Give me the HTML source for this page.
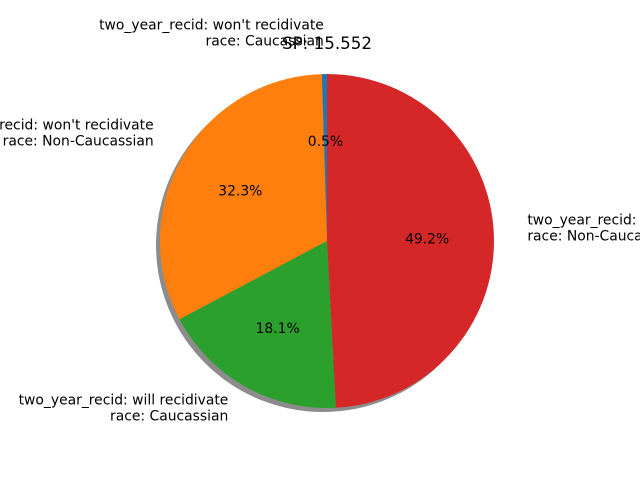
<!DOCTYPE html>
<html><head><meta charset="utf-8"><style>
html,body{margin:0;padding:0;background:#fff;}
svg{display:block;font-family:"DejaVu Sans","Liberation Sans",sans-serif;}
</style></head><body>
<svg id="chart" width="640" height="480" viewBox="0 0 640 480">
<text x="327" y="49" font-size="16.7" text-anchor="middle">SP: 15.552</text>
<g id="shadow"></g><g id="slices"></g><g id="labels"></g>
</svg>
<script>
const categories = ["two_year_recid: won't recidivate\nrace: Caucassian","two_year_recid: won't recidivate\nrace: Non-Caucassian","two_year_recid: will recidivate\nrace: Caucassian","two_year_recid: will recidivate\nrace: Non-Caucassian"];
const values = [0.5, 32.3, 18.1, 49.2];
const pctLabels = ["0.5%","32.3%","18.1%","49.2%"];
const colors = ["#1f77b4","#ff7f0e","#2ca02c","#d62728"];
const NS="http://www.w3.org/2000/svg";
const cx=327, cy=241, R=167;
const total=values.reduce((a,b)=>a+b,0);
function pt(a,r,ox,oy){return [cx+(ox||0)+r*Math.cos(a*Math.PI/180), cy+(oy||0)-r*Math.sin(a*Math.PI/180)];}
function arc(a0,a1,ox,oy){const p0=pt(a0,R,ox,oy),p1=pt(a1,R,ox,oy);const large=(a1-a0)>180?1:0;
 return `M${cx+ox},${cy+oy} L${p0[0]},${p0[1]} A${R},${R} 0 ${large} 0 ${p1[0]},${p1[1]} Z`;}
const sh=document.getElementById('shadow'),sl=document.getElementById('slices'),lb=document.getElementById('labels');
let a=90;
values.forEach((v,i)=>{
 const span=v/total*360, a1=a+span, mid=a+span/2;
 const s=document.createElementNS(NS,'path');
 s.setAttribute('d',arc(a,a1,-4,4));s.setAttribute('fill','#000');s.setAttribute('fill-opacity','0.45');
 
 
 sh.appendChild(s);
 const p=document.createElementNS(NS,'path');
 p.setAttribute('d',arc(a,a1,0,0));p.setAttribute('fill',colors[i]);
 
 
 sl.appendChild(p);
 const [tx,ty]=pt(mid,R*0.6);
 const t=document.createElementNS(NS,'text');
 t.setAttribute('x',tx);t.setAttribute('y',ty+5);t.setAttribute('font-size','13.9');t.setAttribute('text-anchor','middle');
 t.textContent=pctLabels[i];
 
 
 lb.appendChild(t);
 const [lx,ly]=pt(mid,R*1.2);
 const anchor=Math.cos(mid*Math.PI/180)<0?'end':'start';
 const lines=categories[i].split('\n');
 const g=document.createElementNS(NS,'text');
 g.setAttribute('font-size','13.9');g.setAttribute('text-anchor',anchor);
 
 
 lines.forEach((ln,k)=>{const ts=document.createElementNS(NS,'tspan');ts.setAttribute('x',lx);ts.setAttribute('y',ly-16+5+k*16);ts.textContent=ln;g.appendChild(ts);});
 lb.appendChild(g);
 a=a1;
});
</script>
</body></html>
